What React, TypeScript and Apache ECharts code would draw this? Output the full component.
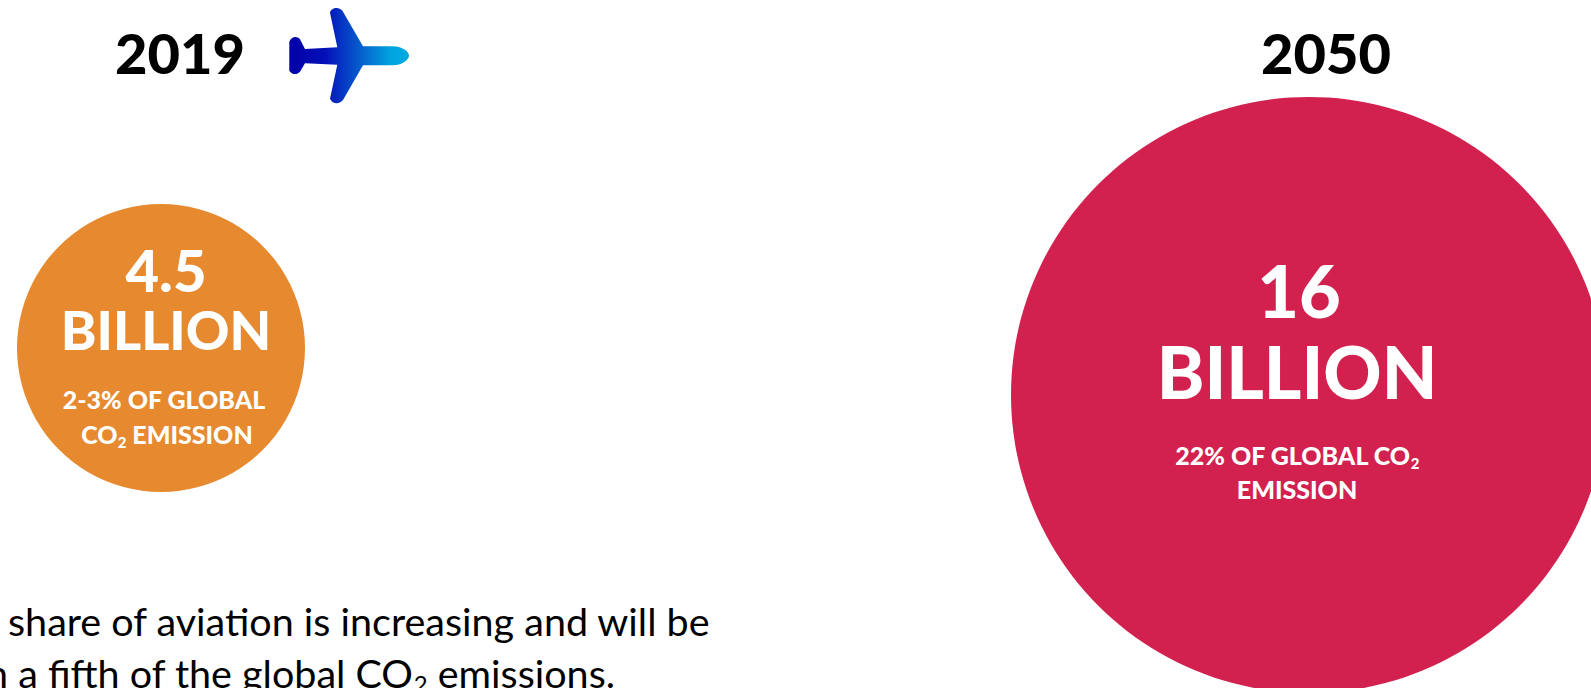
import React, { useEffect, useRef } from "react";
import * as echarts from "echarts";

const years = ["2019", "2050"];
const billions = [4.5, 16];
const bubbleLabels = ["4.5", "16"];
const unitLabel = "BILLION";
const planePath =
  "M409 55.7C409 60 401 65.3 393 65.3L363 65.3L343 100C340 104 333 105 330 98.7L337.3 64.7L305 63.3L300 71.7C297 75 292 75 289.3 70.7L289.3 41.7C292 36 297 36 300 39.3L305 49L337.3 47.3L330 12.7C331 7 340 6 343 11.7L363 46.3L393 46.3C401 46.3 409 51 409 55.7Z";

echarts.graphic.registerShape("plane", echarts.graphic.extendPath(planePath, {}));

const font = "Lato, 'Noto Sans', sans-serif";

const txt = (x: number, y: number, text: string, fontSize: number, fill: string, weight = 900, align = "center", rich?: any, lineHeight?: number) => ({
  type: "text",
  x,
  y,
  silent: true,
  z: 10,
  style: {
    text,
    x: 0,
    y: 0,
    fontFamily: font,
    fontSize,
    fontWeight: weight,
    fill,
    align,
    verticalAlign: "middle",
    rich,
    lineHeight,
  },
});

const subRich = (size: number, fill: string, weight: number) => ({
  s: { fontFamily: font, fontSize: size, fontWeight: weight, fill, verticalAlign: "bottom", lineHeight: size },
});

export default function App() {
  const ref = useRef<HTMLDivElement>(null);
  useEffect(() => {
    if (!ref.current) return;
    document.body.style.margin = "0";
    const chart = echarts.init(ref.current, undefined, { renderer: "svg" });
    const sizes = [288, 596];
    const colors = ["#E6892F", "#D2214E"];
    const offsets = [0, 47];
    chart.setOption({
      animation: false,
      backgroundColor: "#ffffff",
      grid: { left: 161, width: 1148, top: 148, height: 400 },
      xAxis: { type: "category", data: years, show: false, boundaryGap: false },
      yAxis: { type: "value", min: -1, max: 1, show: false },
      series: [
        {
          type: "scatter",
          clip: false,
          silent: true,
          data: years.map((y, i) => ({
            value: [y, 0, billions[i]],
            symbolSize: sizes[i],
            symbolOffset: [0, offsets[i]],
            itemStyle: { color: colors[i], opacity: 1 },
          })),
        },
      ],
      graphic: [
        txt(180, 52, years[0], 56, "#000"),
        txt(1326, 52, years[1], 56, "#000"),
        {
          type: "plane",
          silent: true,
          style: {
            fill: new echarts.graphic.LinearGradient(0, 0, 1, 0, [
              { offset: 0, color: "#0400A8" },
              { offset: 0.3, color: "#0410B8" },
              { offset: 0.6, color: "#0560CE" },
              { offset: 0.85, color: "#00A5DF" },
              { offset: 1, color: "#00A9E0" },
            ]),
          },
        },
        txt(166, 269, bubbleLabels[0], 58, "#fff"),
        txt(166, 329, unitLabel, 54, "#fff"),
        txt(164, 399, "2-3% OF GLOBAL", 25, "#fff"),
        txt(167, 434, "CO{s|2} EMISSION", 25, "#fff", 900, "center", subRich(15, "#fff", 900), 30),
        txt(1299, 290, bubbleLabels[1], 72, "#fff"),
        txt(1297, 371, unitLabel, 72, "#fff"),
        txt(1297, 455, "22% OF GLOBAL CO{s|2}", 25, "#fff", 900, "center", subRich(15, "#fff", 900), 30),
        txt(1297, 489, "EMISSION", 25, "#fff"),
        txt(8, 620, "share of aviation is increasing and will be", 39.5, "#000", 400, "left"),
        txt(-14, 672, "n a fifth of the global CO{s|2} emissions.", 39.5, "#000", 400, "left", subRich(24, "#000", 400), 47),
      ],
    });
    return () => chart.dispose();
  }, []);
  return (
    <div
      ref={ref}
      style={{ position: "absolute", left: 0, top: 0, width: 1591, height: 688, overflow: "hidden" }}
    />
  );
}
